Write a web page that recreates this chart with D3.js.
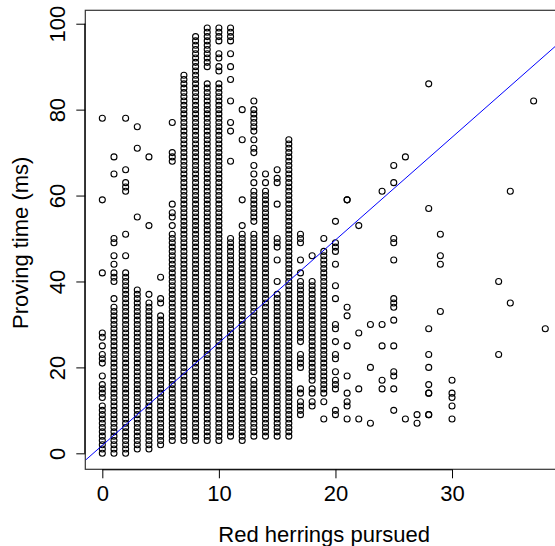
<!DOCTYPE html>
<html>
<head>
<meta charset="utf-8">
<script src="https://cdn.jsdelivr.net/npm/d3@7"></script>
<style>
  body { margin: 0; background: #fff; }
  text { font-family: "Liberation Sans", Arial, sans-serif; fill: #000; }
</style>
</head>
<body>
<div id="scatter"></div>
<script>
// proving times (ms) seen at each number of red herrings pursued
var ms0 = [78,59,42,28,27,25,23,22,21,18,16,15,14,13,11,10,9,8,7,6,5,4,3,2,1,0];
var ms1 = [69,65,50,49,46,44,42,41,40,36,34,33,32,31,30,29,28,27,26,25,24,23,22,21,20,19,18,17,16,15,14,13,12,11,10,9,8,7,6,5,4,3,2,1,0];
var ms2 = [78,66,63,62,61,51,46,42,41,40,39,38,37,36,35,34,33,32,31,30,29,28,27,26,25,24,23,22,21,20,19,18,17,16,15,14,13,12,11,10,9,8,7,6,5,4,3,2,1,0];
var ms3 = [76,71,55,38,37,36,35,34,33,32,31,30,29,28,27,26,25,24,23,22,21,20,19,18,17,16,15,14,13,12,11,10,9,8,7,6,5,4,3,2,1];
var ms4 = [69,53,37,35,34,33,32,31,30,29,28,27,26,25,24,23,22,21,20,19,18,17,16,15,14,13,12,11,10,9,8,7,6,5,4,3,2,1];
var ms5 = [41,36,35,32,31,30,29,28,27,26,25,24,23,22,21,20,19,18,17,16,15,14,13,12,11,10,9,8,7,6,5,4,3,2];
var ms6 = [77,70,69,68,58,56,55,53,51,50,49,48,47,46,45,44,43,42,41,40,39,38,37,36,35,34,33,32,31,30,29,28,27,26,25,24,23,22,21,20,19,18,17,16,15,14,13,12,11,10,9,8,7,6,5,4,3];
var ms7 = [88,87,86,85,84,83,82,81,80,79,78,77,76,75,74,73,72,71,70,69,68,67,66,65,64,63,62,61,60,59,58,57,56,55,54,53,52,51,50,49,48,47,46,45,44,43,42,41,40,39,38,37,36,35,34,33,32,31,30,29,28,27,26,25,24,23,22,21,20,19,18,17,16,15,14,13,12,11,10,9,8,7,6,5,4,3];
var ms8 = [97,96,95,94,93,92,91,90,89,88,87,86,85,84,83,82,81,80,79,78,77,76,75,74,73,72,71,70,69,68,67,66,65,64,63,62,61,60,59,58,57,56,55,54,53,52,51,50,49,48,47,46,45,44,43,42,41,40,39,38,37,36,35,34,33,32,31,30,29,28,27,26,25,24,23,22,21,20,19,18,17,16,15,14,13,12,11,10,9,8,7,6,5,4,3];
var ms9 = [99,98,97,96,95,94,93,92,91,90,86,85,84,83,82,81,80,79,78,77,76,75,74,73,72,71,70,69,68,67,66,65,64,63,62,61,60,59,58,57,56,55,54,53,52,51,50,49,48,47,46,45,44,43,42,41,40,39,38,37,36,35,34,33,32,31,30,29,28,27,26,25,24,23,22,21,20,19,18,17,16,15,14,13,12,11,10,9,8,7,6,5,4,3];
var ms10 = [99,98,97,96,93,92,90,89,86,85,84,83,82,81,80,79,78,77,76,75,74,73,72,71,70,69,68,67,66,65,64,63,62,61,60,59,58,57,56,55,54,53,52,51,50,49,48,47,46,45,44,43,42,41,40,39,38,37,36,35,34,33,32,31,30,29,28,27,26,25,24,23,22,21,20,19,18,17,16,15,14,13,12,11,10,9,8,7,6,5,4,3];
var ms11 = [99,98,97,96,93,90,87,82,77,75,68,50,49,48,47,46,45,44,43,42,41,40,39,38,37,36,35,34,33,32,31,30,29,28,27,26,25,24,23,22,21,20,19,18,17,16,15,14,13,12,11,10,9,8,7,6,5,4];
var ms12 = [80,73,59,53,51,50,49,48,47,46,45,44,43,42,41,40,39,38,37,36,35,34,33,32,31,30,29,28,27,26,25,24,23,22,21,20,19,18,17,16,15,14,13,12,11,10,9,8,7,6,5,4,3];
var ms13 = [82,80,79,78,77,76,75,73,71,70,67,65,63,61,60,59,58,57,56,55,54,51,50,49,48,47,46,45,44,43,42,41,40,39,38,37,36,35,34,33,32,31,30,29,28,27,26,25,24,23,22,21,20,19,17,16,15,14,13,12,11,10,9,8,7,6,5,4];
var ms14 = [65,63,61,60,59,58,57,56,55,54,53,52,51,50,49,48,47,46,45,44,43,42,41,40,39,38,37,36,35,34,33,32,31,30,29,28,27,26,25,24,23,22,21,20,19,18,17,16,15,14,13,12,11,10,9,8,7,6,5,4];
var ms15 = [66,64,63,58,50,49,48,45,40,37,36,35,34,33,32,31,30,29,28,27,26,25,24,23,22,21,20,19,18,17,16,15,14,13,12,11,10,9,8,7,6,5,4];
var ms16 = [73,72,71,70,69,68,67,66,65,64,63,62,61,60,59,58,57,56,55,54,53,52,51,50,49,48,47,46,45,44,43,42,41,40,39,38,37,36,35,34,33,32,31,30,29,28,27,26,25,24,23,22,21,20,19,18,17,16,15,14,13,12,11,10,9,8,7,6,5,4];
var ms17 = [51,50,49,45,42,40,39,38,37,36,35,34,33,32,31,30,29,28,27,26,23,22,21,20,15,14,12,11,10,9];
var ms18 = [46,40,39,38,37,36,35,34,33,32,31,30,29,28,27,26,25,24,23,22,21,20,19,18,17,15,14,12,11];
var ms19 = [50,47,46,45,44,43,42,41,40,39,38,37,36,35,34,33,32,31,30,29,28,27,26,25,24,23,22,21,20,19,18,17,16,15,14,12,8];
var ms20 = [54,49,48,47,44,39,36,30,29,26,23,22,19,17,16,15,10,9];
var ms21 = [59,59,34,32,25,18,14,12,11,8];
var ms22 = [53,28,15,8];
var ms23 = [30,20,7];
var ms24 = [61,30,25,17,15];
var ms25 = [67,63,50,49,45,36,35,34,31,25,19,18,15,10];
var ms26 = [69,8];
var ms27 = [9,7];
var ms28 = [86,57,29,23,20,16,14,14,9,9];
var ms29 = [51,46,44,33];
var ms30 = [17,14,13,11,8];
var ms34 = [40,23];
var ms35 = [61,35];
var ms37 = [82];
var ms38 = [29];

var herrings = [0,1,2,3,4,5,6,7,8,9,10,11,12,13,14,15,16,17,18,19,20,21,22,23,24,25,26,27,28,29,30,34,35,37,38];
var provingTimes = [ms0,ms1,ms2,ms3,ms4,ms5,ms6,ms7,ms8,ms9,ms10,ms11,ms12,ms13,ms14,ms15,ms16,ms17,ms18,ms19,ms20,ms21,ms22,ms23,ms24,ms25,ms26,ms27,ms28,ms29,ms30,ms34,ms35,ms37,ms38];

// fitted line  time = intercept + slope * herrings
var fitIntercept = 1.86;
var fitSlope = 2.39;

var xTicks = [0, 10, 20, 30];
var yTicks = [0, 20, 40, 60, 80, 100];

var svgWidth = 555;
var svgHeight = 546;

var plot = { left: 85.3, right: 563.0, top: 10.3, bottom: 469.3 };
var fontSize = "22px";

var svg = d3.select("#scatter")
    .append("svg")
    .attr("width", svgWidth)
    .attr("height", svgHeight);

var x = d3.scaleLinear()
    .domain([-1.46, 39.52])
    .range([plot.left, plot.right]);

var y = d3.scaleLinear()
    .domain([-3.72, 103.12])
    .range([plot.bottom, plot.top]);

// flatten to points
var points = [];
herrings.forEach(function(h, i) {
    provingTimes[i].forEach(function(t) {
        points.push({ h: h, t: t });
    });
});

svg.append("defs").append("clipPath")
    .attr("id", "plotClip")
    .append("rect")
    .attr("x", plot.left)
    .attr("y", plot.top)
    .attr("width", plot.right - plot.left)
    .attr("height", plot.bottom - plot.top);

// points
svg.append("g")
    .selectAll("circle")
    .data(points)
    .enter()
    .append("circle")
    .attr("cx", d => x(d.h))
    .attr("cy", d => y(d.t))
    .attr("r", 3)
    .attr("fill", "none")
    .attr("stroke", "#000")
    .attr("stroke-width", 1.1);

// regression line
var xd = x.domain();
svg.append("line")
    .attr("clip-path", "url(#plotClip)")
    .attr("x1", x(xd[0]))
    .attr("y1", y(fitIntercept + fitSlope * xd[0]))
    .attr("x2", x(xd[1]))
    .attr("y2", y(fitIntercept + fitSlope * xd[1]))
    .attr("stroke", "#0000ff")
    .attr("stroke-width", 1);

// box
svg.append("rect")
    .attr("x", plot.left)
    .attr("y", plot.top)
    .attr("width", plot.right - plot.left)
    .attr("height", plot.bottom - plot.top)
    .attr("fill", "none")
    .attr("stroke", "#333")
    .attr("stroke-width", 1.2);

// axes
var bottomAxis = d3.axisBottom(x).tickValues(xTicks).tickSize(9).tickSizeOuter(0);
var leftAxis = d3.axisLeft(y).tickValues(yTicks).tickSize(9).tickSizeOuter(0);

var gx = svg.append("g")
    .attr("transform", `translate(0, ${plot.bottom})`)
    .call(bottomAxis);
gx.select(".domain").attr("d", `M${x(0)},0.5H${x(30)}`).attr("stroke", "#000");
gx.selectAll(".tick text")
    .attr("y", 31.5)
    .attr("dy", null)
    .style("font-size", fontSize)
    .style("font-family", "Liberation Sans, Arial, sans-serif");

var gy = svg.append("g")
    .attr("transform", `translate(${plot.left}, 0)`)
    .call(leftAxis);
gy.select(".domain").attr("d", `M-0.5,${y(0)}V${y(100)}`).attr("stroke", "#000");
gy.selectAll(".tick text")
    .attr("x", null)
    .attr("dy", null)
    .attr("text-anchor", "middle")
    .attr("transform", "translate(-20.5, 0) rotate(-90)")
    .attr("y", 0)
    .style("font-size", fontSize)
    .style("font-family", "Liberation Sans, Arial, sans-serif");

// axis titles
svg.append("text")
    .attr("x", (plot.left + plot.right) / 2)
    .attr("y", 542)
    .attr("text-anchor", "middle")
    .style("font-size", fontSize)
    .text("Red herrings pursued");

svg.append("text")
    .attr("transform", `translate(28, ${(plot.top + plot.bottom) / 2 + 3}) rotate(-90)`)
    .attr("text-anchor", "middle")
    .style("font-size", fontSize)
    .text("Proving time (ms)");
</script>
</body>
</html>
